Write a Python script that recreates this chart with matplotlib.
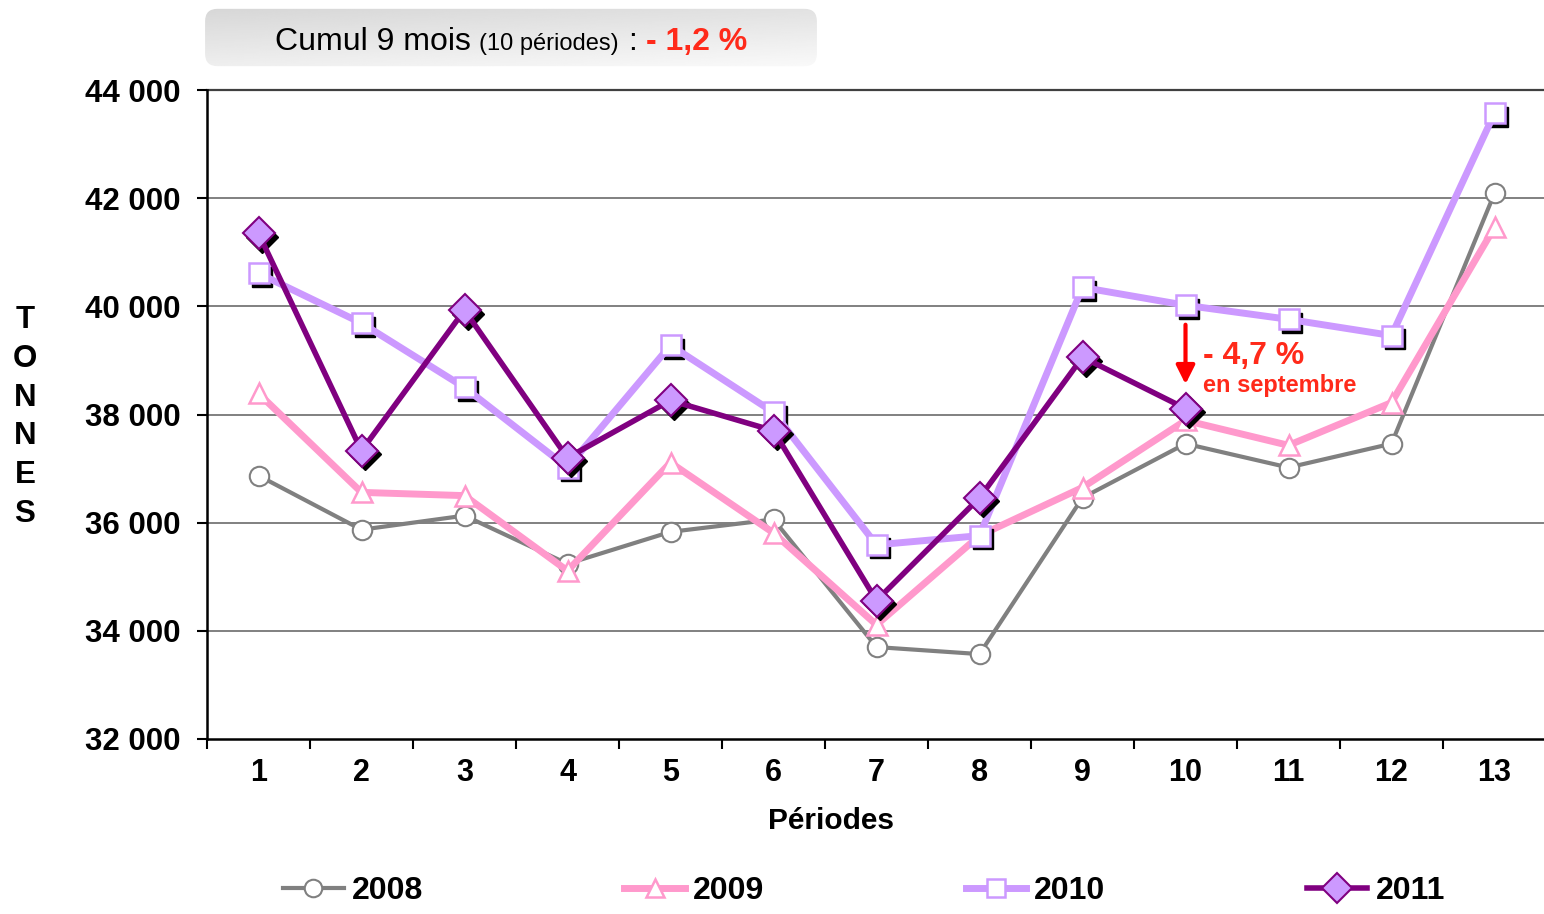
import matplotlib
matplotlib.use("Agg")
import matplotlib.pyplot as plt
import matplotlib.transforms as mtransforms
from matplotlib.patches import FancyBboxPatch
import numpy as np

plt.rcParams['font.family'] = ['Liberation Sans', 'DejaVu Sans']

# ---- data ----
periods = list(range(1, 14))
period_labels = [str(p) for p in periods]
s2008 = [36870, 35870, 36130, 35240, 35830, 36060, 33700, 33570, 36460, 37460, 37020, 37460, 42090]
s2009 = [38390, 36560, 36500, 35110, 37110, 35810, 34110, 35760, 36650, 37890, 37430, 38220, 41460]
s2010 = [40610, 39690, 38500, 37020, 39280, 38040, 35590, 35760, 40350, 40020, 39760, 39460, 43570]
s2011 = [41350, 37330, 39930, 37200, 38260, 37700, 34560, 36460, 39060, 38110]
series_names = ['2008', '2009', '2010', '2011']
yticks = [32000, 34000, 36000, 38000, 40000, 42000, 44000]
ytick_labels = ['32 000', '34 000', '36 000', '38 000', '40 000', '42 000', '44 000']
title_main = 'Cumul 9 mois'
title_small = '(10 périodes)'
title_value = '- 1,2 %'
annot_value = '- 4,7 %'
annot_sub = 'en septembre'
annot_period = 10

W, H = 1544, 914
fig = plt.figure(figsize=(W / 100, H / 100), dpi=100)
ax = fig.add_axes([207 / W, 1 - 739 / H, 1339 / W, (739 - 90) / H])

ax.set_xlim(0.5, 13.5)
ax.set_ylim(32000, 44000)

# grid
for yv in yticks[1:-1]:
    ax.axhline(yv, color='#808080', lw=1.4, zorder=1)
ax.axhline(44000, color='#404040', lw=1.6, zorder=1, clip_on=False)

for sp in ['top', 'right']:
    ax.spines[sp].set_visible(False)
ax.spines['left'].set_linewidth(1.8)
ax.spines['bottom'].set_linewidth(1.8)

ax.set_yticks(yticks)
ax.set_yticklabels(ytick_labels, fontsize=22.5, fontweight='bold')
ax.set_xticks(periods)
ax.set_xticklabels(period_labels, fontsize=22, fontweight='bold')
ax.tick_params(axis='x', length=0, pad=14)
ax.set_xticks(np.arange(0.5, 14, 1), minor=True)
ax.tick_params(axis='x', which='minor', length=7, width=1.5, direction='out')
ax.tick_params(axis='y', length=7, width=1.5, direction='out', pad=12)

fig.text(831 / W, 1 - 821 / H, 'Périodes', fontsize=21.5, fontweight='bold',
         ha='center', va='center')

shadow = mtransforms.offset_copy(ax.transData, fig=fig, x=3.5, y=-3.5, units='dots')

x13 = periods
x10 = periods[:len(s2011)]

l08, = ax.plot(x13, s2008, color='#808080', lw=3, marker='o', ms=14, mfc='white',
               mec='#808080', mew=1.5, zorder=2, label=series_names[0])
l09, = ax.plot(x13, s2009, color='#ff99cc', lw=5, marker='^', ms=15, mfc='white',
               mec='#ff99cc', mew=1.8, zorder=3, label=series_names[1])
ax.plot(x13, s2010, ls='none', marker='s', ms=14, mfc='black', mec='black', transform=shadow, zorder=3.9)
l10, = ax.plot(x13, s2010, color='#cc99ff', lw=5, marker='s', ms=14, mfc='white',
               mec='#cc99ff', mew=1.8, zorder=4, label=series_names[2])
ax.plot(x10, s2011, ls='none', marker='D', ms=16.5, mfc='black', mec='black', transform=shadow, zorder=4.9)
l11, = ax.plot(x10, s2011, color='#800080', lw=4, marker='D', ms=16.5, mfc='#cc99ff',
               mec='#800080', mew=1.5, zorder=5, label=series_names[3])

# annotation
ya = s2011[annot_period - 1]
ax.annotate('', xy=(annot_period, ya + 450), xytext=(annot_period, ya + 1550),
            arrowprops=dict(arrowstyle='-|>', color='#ff0000', lw=3, mutation_scale=28,
                            shrinkA=0, shrinkB=0), zorder=6)
ax.text(annot_period + 0.17, 39080, annot_value, color='#ff2a1a', fontsize=23,
        fontweight='bold', va='center', ha='left', zorder=6)
ax.text(annot_period + 0.17, 38530, annot_sub, color='#ff2a1a', fontsize=17,
        fontweight='bold', va='center', ha='left', zorder=6)

# TONNES
fig.text(25 / W, 1 - 417 / H, '\n'.join('TONNES'), fontsize=22.5, fontweight='bold',
         ha='center', va='center', linespacing=1.38)

# title box with gradient
bx0, by0, bx1, by1 = 202, 7, 820, 68
tax = fig.add_axes([bx0 / W, 1 - by1 / H, (bx1 - bx0) / W, (by1 - by0) / H])
tax.set_axis_off()
gx, gy = np.meshgrid(np.linspace(0, 1, 200), np.linspace(0, 1, 100))
g = 0.84 + 0.14 * (0.7 * gy + 0.3 * gx)
img = tax.imshow(g, cmap='gray', vmin=0, vmax=1, extent=[0, 1, 0, 1], aspect='auto', origin='upper')
patch = FancyBboxPatch((0.005, 0.03), 0.99, 0.94, boxstyle='round,pad=0,rounding_size=0.02',
                       transform=tax.transAxes, facecolor='none', edgecolor='none',
                       mutation_aspect=(bx1 - bx0) / (by1 - by0))
tax.add_patch(patch)
img.set_clip_path(patch)
tax.set_xlim(0, 1)
tax.set_ylim(0, 1)

base_y = 1 - 50 / H
fig.text(275 / W, base_y, title_main, fontsize=23, va='baseline', ha='left')
fig.text(479 / W, base_y, title_small, fontsize=17, va='baseline', ha='left')
fig.text(628 / W, base_y, ':', fontsize=23, va='baseline', ha='left')
fig.text(646 / W, base_y, title_value, fontsize=23, fontweight='bold', color='#ff2a1a',
         va='baseline', ha='left')

leg = fig.legend(handles=[l08, l09, l10, l11], loc='center', ncol=4,
                 bbox_to_anchor=(864 / W, 1 - 891 / H), frameon=False,
                 prop={'size': 23, 'weight': 'bold'}, handlelength=1.9,
                 handletextpad=0.25, columnspacing=6.3, markerscale=0.9)

fig.savefig('out.png', dpi=100)
